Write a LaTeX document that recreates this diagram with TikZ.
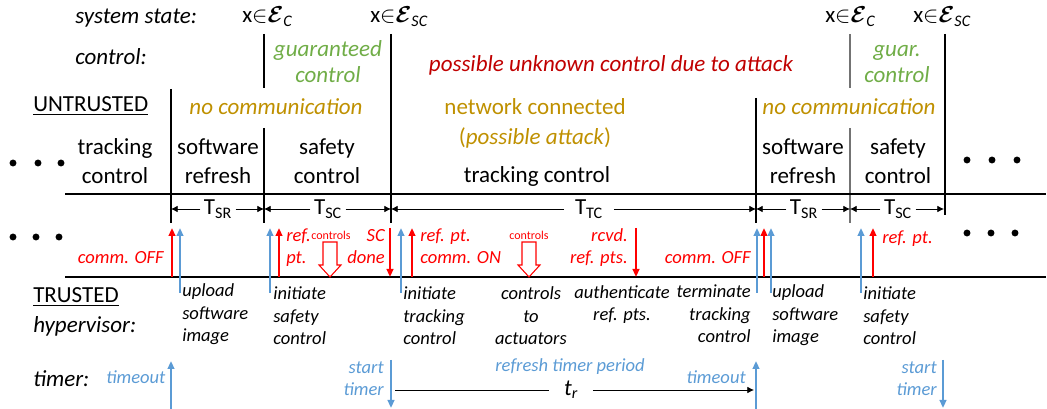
\documentclass[tikz,border=0pt]{standalone}
\usepackage{fontspec}
\setmainfont{Carlito}
\usepackage{bm}
\usetikzlibrary{arrows.meta}
\definecolor{gold}{RGB}{191,144,0}
\definecolor{okgreen}{RGB}{112,173,71}
\definecolor{darkred}{RGB}{192,0,0}
\definecolor{brightred}{RGB}{255,0,0}
\definecolor{skyblue}{RGB}{91,155,213}
\newcommand{\inset}[1]{x$\in$$\bm{\mathcal{E}}$\textsubscript{\textit{#1}}}
\begin{document}
\begin{tikzpicture}[x=0.75pt,y=-0.75pt,
  every node/.style={inner sep=0pt},
  big/.style={font=\fontsize{17.25}{21.75}\selectfont, align=center},
  bigit/.style={font=\itshape\fontsize{17.25}{19.5}\selectfont, align=center},
  note/.style={font=\itshape\fontsize{13.9}{16.9}\selectfont},
  rednote/.style={text=brightred, font=\itshape\fontsize{13.9}{16.5}\selectfont},
  bluenote/.style={text=skyblue, font=\itshape\fontsize{13.9}{16.5}\selectfont},
  tinylbl/.style={font=\fontsize{9}{10}\selectfont, text=brightred},
  rail/.style={line width=2pt},
  sep/.style={line width=1pt},
  dimarr/.style={line width=0.6pt, -{Latex[length=5pt,width=5pt]}},
  dimlbl/.style={font=\fontsize{17.25}{20}\selectfont, inner xsep=2.5pt},
  redarr/.style={draw=brightred, line width=1.5pt, -{Triangle[length=6pt,width=5pt]}},
  bluearr/.style={draw=skyblue, line width=1.5pt, -{Triangle[length=6pt,width=5pt]}},
  hollow/.style={draw=brightred, fill=white, line width=0.8pt, line join=miter},
  dot/.style={circle, fill=black, minimum size=5.2pt},
  hollowarrow/.pic={\draw[hollow] (-7,0) -- (7,0) -- (7,23) -- (11,23) -- (0,35) -- (-11,23) -- (-7,23) -- cycle;}
]
\useasboundingbox (0,0) rectangle (1047,409);

% ---------- row headings ----------
\node[bigit, anchor=base west] (hstate) at (75,24) {system state:};
\node[bigit, anchor=base west] (hctrl) at (75,65) {control:};
\node[big, anchor=base west] (hun) at (33,112) {\underline{UNTRUSTED}};
\node[big, anchor=base west] (htr) at (33,303) {\underline{TRUSTED}};
\node[bigit, anchor=base west] (hhyp) at (33,333) {hypervisor:};
\node[bigit, anchor=base west] (htim) at (33,387) {timer:};

% ---------- system state ----------
\node[big, anchor=base west] (st1) at (242,23) {\inset{C}};
\node[big, anchor=base west] (st2) at (370,23) {\inset{SC}};
\node[big, anchor=base west] (st3) at (825,23) {\inset{C}};
\node[big, anchor=base west] (st4) at (913,23) {\inset{SC}};

% ---------- control row (multi-line nodes sit on their last baseline) ----------
\node[bigit, text=okgreen, anchor=base] (gc1) at (328,83) {guaranteed\\control};
\node[bigit, text=darkred, anchor=base] (att) at (611,72) {possible unknown control due to attack};
\node[bigit, text=okgreen, anchor=base] (gc2) at (897,83) {guar.\\control};

% ---------- communication row ----------
\node[bigit, text=gold, anchor=base] (nc1) at (276,115) {no communication};
\node[big, text=gold, anchor=base, font=\fontsize{17.25}{22.5}\selectfont] (net) at (535,145) {network connected\\(\textit{possible attack})};
\node[bigit, text=gold, anchor=base] (nc2) at (849,115) {no communication};

% ---------- phases ----------
\node[big, anchor=base] (ph1) at (115,184) {tracking\\control};
\node[big, anchor=base] (ph2) at (218,184) {software\\refresh};
\node[big, anchor=base] (ph3) at (327,184) {safety\\control};
\node[big, anchor=base] (ph4) at (537,183) {tracking control};
\node[big, anchor=base] (ph5) at (803,184) {software\\refresh};
\node[big, anchor=base] (ph6) at (898,184) {safety\\control};

% continuation dots
\foreach \i/\x/\y in {1/13/163, 2/38/163, 3/61/163, 4/13/237, 5/36/237, 6/59/237,
                      7/967/160, 8/992/160, 9/1017/160, 10/967/233, 11/991/233, 12/1015/233}
  \node[dot] (dot\i) at (\x,\y) {};

% ---------- phase boundaries ----------
\draw[sep] (171,89) -- (171,223);
\draw[sep] (264,34) -- (264,88);
\draw[sep] (264,128) -- (264,223);
\draw[sep] (391,34) -- (391,223);
\draw[sep] (756,98) -- (756,223);
\draw[sep, black!55] (850,34) -- (850,88);
\draw[sep, black!55] (850,128) -- (850,223);
\draw[sep] (945,34) -- (945,215);

% ---------- rails ----------
\draw[rail] (65,194) -- (1046,194);
\draw[rail] (65,277) -- (1046,277);

% ---------- phase durations ----------
\coordinate (d1) at (171,209);
\coordinate (d2) at (264,209);
\coordinate (d3) at (391,209);
\coordinate (d4) at (756,209);
\coordinate (d5) at (850,209);
\coordinate (d6) at (944,209);
\node[dimlbl] (tsr1) at (218,209) {T\textsubscript{SR}};
\node[dimlbl] (tsc1) at (328,209) {T\textsubscript{SC}};
\node[dimlbl, inner xsep=8pt] (ttc) at (589,209) {T\textsubscript{TC}};
\node[dimlbl] (tsr2) at (804,209) {T\textsubscript{SR}};
\node[dimlbl] (tsc2) at (898,209) {T\textsubscript{SC}};
\draw[dimarr] (tsr1) -- (d1); \draw[dimarr] (tsr1) -- (d2);
\draw[dimarr] (tsc1) -- (d2); \draw[dimarr] (tsc1) -- (d3);
\draw[dimarr] (ttc) -- (d3);  \draw[dimarr] (ttc) -- (d4);
\draw[dimarr] (tsr2) -- (d4); \draw[dimarr] (tsr2) -- (d5);
\draw[dimarr] (tsc2) -- (d5); \draw[dimarr] (tsc2) -- (d6);

% ---------- messages between the rails ----------
\foreach \x in {172,279,412,764,873} \draw[redarr] (\x,277) -- (\x,228);
\foreach \x in {390,636} \draw[redarr] (\x,228) -- (\x,277);
\foreach \x in {180,270,401,757,771,861} \draw[bluearr] (\x,293) -- (\x,228);
\pic at (330,242) {hollowarrow};
\pic at (529,242) {hollowarrow};

\node[rednote, anchor=base east] (m1) at (164,264) {comm. OFF};
\node[rednote, anchor=base west, align=left] (m2) at (286,264) {ref.\\pt.};
\node[tinylbl] (m3) at (331,235) {controls};
\node[rednote, anchor=base east, align=right] (m4) at (385,264) {SC\\done};
\node[rednote, anchor=base west, align=left] (m5) at (420,264) {ref. pt.\\comm. ON};
\node[tinylbl] (m6) at (529,235) {controls};
\node[rednote, anchor=base east, align=right] (m7) at (628,264) {rcvd.\\ref. pts.};
\node[rednote, anchor=base east] (m8) at (751,264) {comm. OFF};
\node[rednote, anchor=base west] (m9) at (882,244) {ref. pt.};

% ---------- hypervisor actions ----------
\node[note, anchor=base west, align=left] (a1) at (182,342) {upload\\software\\image};
\node[note, anchor=base west, align=left] (a2) at (273,345) {initiate\\safety\\control};
\node[note, anchor=base west, align=left] (a3) at (403,345) {initiate\\tracking\\control};
\node[note, anchor=base, align=center] (a4) at (531,345) {controls\\to\\actuators};
\node[note, anchor=base, align=center] (a5) at (622,321) {authenticate\\ref. pts.};
\node[note, anchor=base east, align=right] (a6) at (751,343) {terminate\\tracking\\control};
\node[note, anchor=base west, align=left] (a7) at (772,343) {upload\\software\\image};
\node[note, anchor=base west, align=left] (a8) at (863,345) {initiate\\safety\\control};

% ---------- timer ----------
\draw[bluearr] (171,409) -- (171,361);
\draw[bluearr] (391,360) -- (391,408);
\draw[bluearr] (756,409) -- (756,361);
\draw[bluearr] (943,360) -- (943,408);
\node[bluenote, anchor=base west] (t1) at (106,384) {timeout};
\node[bluenote, anchor=base east, align=right] (t2) at (384,396) {start\\timer};
\node[bluenote, anchor=base] (t3) at (570,372) {refresh timer period};
\node[bluenote, anchor=base east] (t4) at (746,384) {timeout};
\node[bluenote, anchor=base east, align=right] (t5) at (937,396) {start\\timer};
\coordinate (tstart) at (395,390);
\coordinate (tend) at (754,390);
\node[font=\itshape\fontsize{17.25}{20}\selectfont, inner xsep=11pt] (tr) at (571,390) {t\textsubscript{r}};
\draw[line width=0.6pt] (tstart) -- (tr);
\draw[dimarr] (tr) -- (tend);
\end{tikzpicture}
\end{document}
